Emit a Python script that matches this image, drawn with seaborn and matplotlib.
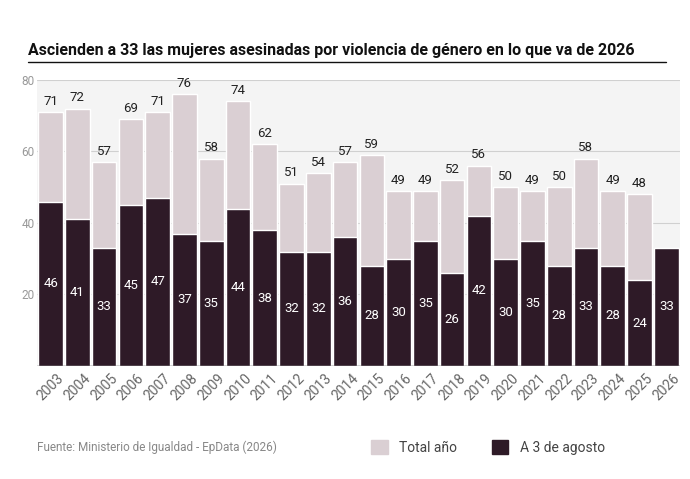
import matplotlib
matplotlib.use("Agg")
import matplotlib.pyplot as plt
import seaborn as sns
import pandas as pd
from matplotlib.patches import Patch

years = [str(y) for y in range(2003, 2027)]
total = [71,72,57,69,71,76,58,74,62,51,54,57,59,49,49,52,56,50,49,50,58,49,48,None]
agosto = [46,41,33,45,47,37,35,44,38,32,32,36,28,30,35,26,42,30,35,28,33,28,24,33]

sns.set_theme(style="white")
plt.rcParams['font.family'] = ['Roboto', 'DejaVu Sans']
fig = plt.figure(figsize=(6.9, 4.79), dpi=100)
ax = fig.add_axes([0.054, 0.236, 0.931, 0.597])
ax.set_facecolor("#f4f4f4")
light = "#dacfd3"; dark = "#2e1a27"
df = pd.DataFrame({"year": years, "total": [t if t is not None else 0 for t in total], "agosto": agosto})
sns.barplot(data=df, x="year", y="total", color=light, width=0.92, ax=ax, saturation=1, zorder=2)
sns.barplot(data=df, x="year", y="agosto", color=dark, width=0.92, ax=ax, saturation=1, zorder=3)
for i, (t, a) in enumerate(zip(total, agosto)):
    if t is not None:
        ax.text(i, t + 1.2, str(t), ha="center", va="bottom", fontsize=9.5, color="#222222", zorder=4)
    ax.text(i, a / 2, str(a), ha="center", va="center", fontsize=9.5, color="white", zorder=4)
ax.set_ylim(0, 80)
ax.set_xlim(-0.5, len(years) - 0.5)
ax.set_yticks([20, 40, 60, 80])
ax.yaxis.grid(True, color="#d0d0d0", lw=0.8, zorder=0)
ax.set_axisbelow(True)
ax.tick_params(axis="y", labelsize=8.5, labelcolor="#999999", length=0, pad=2)
ax.tick_params(axis="x", labelsize=10, labelcolor="#666666", length=0, rotation=45)
for lbl in ax.get_xticklabels():
    lbl.set_ha("center")
ax.set_xlabel(""); ax.set_ylabel("")
for s in ax.spines.values():
    s.set_visible(False)
ax.axhline(0, color="#333333", lw=1, zorder=5)

fig.text(0.04, 0.885, "Ascienden a 33 las mujeres asesinadas por violencia de género en lo que va de 2026",
         fontsize=11.5, fontweight="bold", color="#111111")
fig.add_artist(plt.Line2D([0.04, 0.965], [0.870, 0.870], color="#111111", lw=1))
fig.text(0.054, 0.058, "Fuente: Ministerio de Igualdad - EpData (2026)", fontsize=8.5, color="#888888")
fig.legend(handles=[Patch(color=light, label="Total año"), Patch(color=dark, label="A 3 de agosto")],
           loc="lower left", bbox_to_anchor=(0.52, 0.025), ncol=2, frameon=False, fontsize=10,
           handlelength=1.2, handleheight=1.2, columnspacing=2.5, labelcolor="#444444")
fig.savefig("out.png", dpi=100)
